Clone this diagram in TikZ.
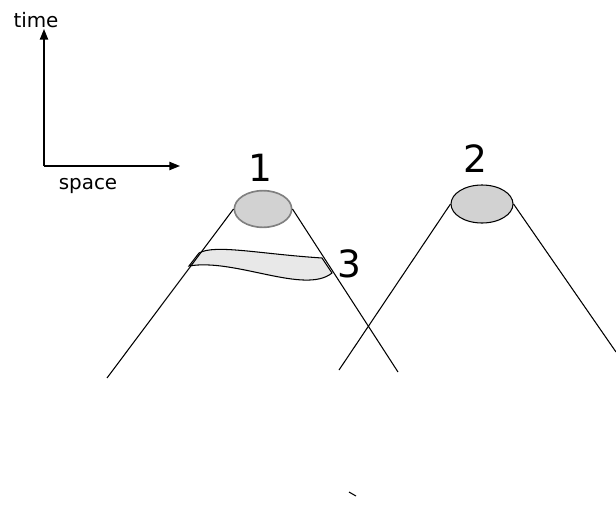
\documentclass[tikz,border=0pt]{standalone}
\usepackage{fontspec}
\setmainfont{DejaVu Sans}
\usepackage{tikz}
\usetikzlibrary{arrows.meta, positioning, shapes.geometric}

\begin{document}
\begin{tikzpicture}[
    x=0.03cm, y=-0.03cm,
    axis/.style={line width=1.1pt, -{Triangle[length=9pt, width=7pt]}},
    axislabel/.style={font=\fontsize{17}{20}\selectfont, anchor=base},
    event/.style={ellipse, draw, line width=0.9pt, fill=gray!35, inner sep=0pt},
    number/.style={font=\fontsize{32}{38}\selectfont},
    cone/.style={line width=0.9pt},
    band/.style={draw, line width=0.9pt, fill=gray!18}
]
\useasboundingbox (0,0) rectangle (616,505);

% axes
\coordinate (origin) at (44,166);
\coordinate (tup) at (44,29);
\coordinate (xright) at (180,166);
\draw[axis] (origin) -- (tup);
\draw[axis] (origin) -- (xright);
\node[axislabel] (time) at (36,27) {time};
\node[axislabel] (space) at (88,189) {space};

% events
\node[event, draw=gray, line width=1.4pt, minimum width=1.72cm, minimum height=1.1cm] (ev1) at (263,209) {};
\node[event, minimum width=1.86cm, minimum height=1.14cm] (ev2) at (482,204) {};
\node[number] (n1) at (260,168) {1};
\node[number] (n2) at (475,159) {2};

% band between the cone lines
\draw[band] (199,253) .. controls (215,244) and (260,254) .. (322,258)
    -- (332,273) .. controls (305,295) and (235,258) .. (189,266) -- cycle;
\node[number] (n3) at (349,264) {3};

% light cones
\coordinate (c1l) at (107,378);
\coordinate (c1r) at (398,372);
\coordinate (c2l) at (339,370);
\coordinate (c2r) at (616,352);
\draw[cone] (ev1.west) -- (c1l);
\draw[cone] (ev1.east) -- (c1r);
\draw[cone] (ev2.west) -- (c2l);
\draw[cone] (ev2.east) -- (c2r);

\coordinate (ta) at (349,492);
\coordinate (tb) at (356,496);
\draw[cone] (ta) -- (tb);
\end{tikzpicture}
\end{document}
